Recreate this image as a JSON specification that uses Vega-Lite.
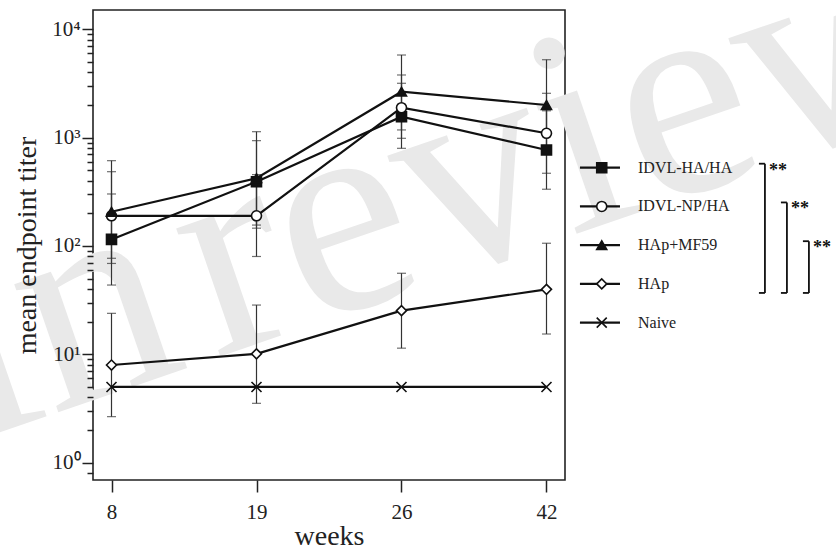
{
  "$schema": "https://vega.github.io/schema/vega-lite/v6.json",
  "width": 472,
  "height": 470,
  "autosize": {"type": "none"},
  "padding": {"left": 93, "top": 10, "right": 271, "bottom": 74},
  "background": "white",
  "config": {
    "view": {"stroke": "#222", "strokeWidth": 1.6},
    "font": "Liberation Serif",
    "axis": {"labelFont": "Liberation Serif", "titleFont": "Liberation Serif", "labelColor": "#222", "titleColor": "#222", "titleFontWeight": "normal", "domain": false, "grid": false, "tickColor": "#222", "tickWidth": 1.5}
  },
  "datasets": {
    "titers": [
      {"series": "IDVL-HA/HA", "week": 8, "titer": 115, "lo": 43.6, "hi": 302},
      {"series": "IDVL-HA/HA", "week": 19, "titer": 392, "lo": 146, "hi": 938},
      {"series": "IDVL-HA/HA", "week": 26, "titer": 1560, "lo": 797, "hi": 3175},
      {"series": "IDVL-HA/HA", "week": 42, "titer": 769, "lo": 334, "hi": 1770},
      {"series": "IDVL-NP/HA", "week": 8, "titer": 190, "lo": 77, "hi": 485},
      {"series": "IDVL-NP/HA", "week": 19, "titer": 190, "lo": 80, "hi": 456},
      {"series": "IDVL-NP/HA", "week": 26, "titer": 1890, "lo": 986, "hi": 3787},
      {"series": "IDVL-NP/HA", "week": 42, "titer": 1097, "lo": 469, "hi": 2566},
      {"series": "HAp+MF59", "week": 8, "titer": 207, "lo": 69, "hi": 613},
      {"series": "HAp+MF59", "week": 19, "titer": 422, "lo": 156, "hi": 1135},
      {"series": "HAp+MF59", "week": 26, "titer": 2655, "lo": 1178, "hi": 5790},
      {"series": "HAp+MF59", "week": 42, "titer": 2000, "lo": 760, "hi": 5240},
      {"series": "HAp", "week": 8, "titer": 7.97, "lo": 2.66, "hi": 23.9},
      {"series": "HAp", "week": 19, "titer": 10.1, "lo": 3.53, "hi": 28.5},
      {"series": "HAp", "week": 26, "titer": 25.3, "lo": 11.4, "hi": 56},
      {"series": "HAp", "week": 42, "titer": 39.8, "lo": 15.4, "hi": 106},
      {"series": "Naive", "week": 8, "titer": 5},
      {"series": "Naive", "week": 19, "titer": 5},
      {"series": "Naive", "week": 26, "titer": 5},
      {"series": "Naive", "week": 42, "titer": 5}
    ],
    "legend": [
      {"series": "IDVL-HA/HA", "pos": 0},
      {"series": "IDVL-NP/HA", "pos": 1},
      {"series": "HAp+MF59", "pos": 2},
      {"series": "HAp", "pos": 3},
      {"series": "Naive", "pos": 4}
    ],
    "brackets": [
      {"level": 1, "from": 0, "to": 3, "label": "**"},
      {"level": 2, "from": 1, "to": 3, "label": "**"},
      {"level": 3, "from": 2, "to": 3, "label": "**"}
    ]
  },
  "layer": [
    {
      "encoding": {
        "x": {"field": "week", "type": "ordinal", "scale": {"type": "point", "domain": [8, 19, 26, 42], "padding": 0.1276},
          "axis": {"labelAngle": 0, "labelFontSize": 21, "tickSize": 12, "labelPadding": 9, "title": "weeks", "titleFontSize": 28, "titlePadding": 0, "zindex": 1}}
      },
      "layer": [
        {
          "data": {"values": [{"week": 26, "titer": 266, "text": "in\u200areview"}]},
          "mark": {"type": "text", "font": "Liberation Serif", "fontSize": 295, "color": "#e9e9e9", "angle": 341, "align": "center", "baseline": "middle", "dx": 46},
          "encoding": {
            "y": {"field": "titer", "type": "quantitative", "scale": {"type": "log", "domain": [0.692, 15070], "nice": false}, "title": "mean endpoint titer",
              "axis": {
                "values": [0.8, 1, 2, 3, 4, 5, 6, 7, 8, 9, 10, 20, 30, 40, 50, 60, 70, 80, 90, 100, 200, 300, 400, 500, 600, 700, 800, 900, 1000, 2000, 3000, 4000, 5000, 6000, 7000, 8000, 9000, 10000],
                "labelExpr": "datum.value == 1 ? '10⁰' : datum.value == 10 ? '10¹' : datum.value == 100 ? '10²' : datum.value == 1000 ? '10³' : datum.value == 10000 ? '10⁴' : ''",
                "tickSize": 11,
                "tickDash": {"condition": {"test": "datum.value == 1 || datum.value == 10 || datum.value == 100 || datum.value == 1000 || datum.value == 10000", "value": [20, 0]}, "value": [6, 30]},
                "labelFontSize": 21, "labelPadding": 2, "labelOverlap": false, "labelBound": false,
                "titleFontSize": 28, "titlePadding": 10, "zindex": 1
              }},
            "text": {"field": "text"}
          }
        },
        {
          "data": {"name": "titers"},
          "transform": [{"filter": "isValid(datum.lo)"}],
          "mark": {"type": "rule", "color": "#333", "strokeWidth": 1.2},
          "encoding": {
            "y": {"field": "lo", "type": "quantitative", "scale": {"type": "log", "domain": [0.692, 15070], "nice": false}, "title": "mean endpoint titer"},
            "y2": {"field": "hi"}
          }
        },
        {
          "data": {"name": "titers"},
          "transform": [{"filter": "isValid(datum.lo)"}, {"fold": ["lo", "hi"], "as": ["end", "bound"]}],
          "mark": {"type": "tick", "color": "#333", "size": 9, "thickness": 1.2},
          "encoding": {
            "y": {"field": "bound", "type": "quantitative", "scale": {"type": "log", "domain": [0.692, 15070], "nice": false}, "title": "mean endpoint titer"}
          }
        },
        {
          "data": {"name": "titers"},
          "mark": {"type": "line", "color": "#111", "strokeWidth": 2.2},
          "encoding": {
            "y": {"field": "titer", "type": "quantitative", "scale": {"type": "log", "domain": [0.692, 15070], "nice": false}, "title": "mean endpoint titer"},
            "detail": {"field": "series"}
          }
        },
        {
          "data": {"name": "titers"},
          "mark": {"type": "point", "filled": true, "opacity": 1, "stroke": "#111", "strokeWidth": 1.6, "size": 100},
          "encoding": {
            "y": {"field": "titer", "type": "quantitative", "scale": {"type": "log", "domain": [0.692, 15070], "nice": false}, "title": "mean endpoint titer"},
            "shape": {"field": "series", "type": "nominal", "scale": {"domain": ["IDVL-HA/HA", "IDVL-NP/HA", "HAp+MF59", "HAp", "Naive"], "range": ["square", "circle", "triangle-up", "diamond", "M-1,-1L1,1M-1,1L1,-1"]}, "legend": null},
            "fill": {"field": "series", "type": "nominal", "scale": {"domain": ["IDVL-HA/HA", "IDVL-NP/HA", "HAp+MF59", "HAp", "Naive"], "range": ["#111", "#fff", "#111", "#fff", "#111"]}, "legend": null}
          }
        }
      ]
    },
    {
      "layer": [
        {
          "data": {"name": "legend"},
          "mark": {"type": "rule", "color": "#111", "strokeWidth": 2.2},
          "encoding": {
            "x": {"datum": -7.41, "type": "quantitative", "scale": {"domain": [-29.55, -8.09], "nice": false, "zero": false}, "axis": null},
            "x2": {"datum": -5.59},
            "y": {"field": "pos", "type": "quantitative", "scale": {"domain": [-4.07, 8.06], "nice": false, "zero": false, "reverse": true}, "axis": null}
          }
        },
        {
          "data": {"name": "legend"},
          "mark": {"type": "point", "filled": true, "opacity": 1, "stroke": "#111", "strokeWidth": 1.6, "size": 100},
          "encoding": {
            "x": {"datum": -6.42, "type": "quantitative", "scale": {"domain": [-29.55, -8.09], "nice": false, "zero": false}, "axis": null},
            "y": {"field": "pos", "type": "quantitative", "scale": {"domain": [-4.07, 8.06], "nice": false, "zero": false, "reverse": true}, "axis": null},
            "shape": {"field": "series", "type": "nominal", "scale": {"domain": ["IDVL-HA/HA", "IDVL-NP/HA", "HAp+MF59", "HAp", "Naive"], "range": ["square", "circle", "triangle-up", "diamond", "M-1,-1L1,1M-1,1L1,-1"]}, "legend": null},
            "fill": {"field": "series", "type": "nominal", "scale": {"domain": ["IDVL-HA/HA", "IDVL-NP/HA", "HAp+MF59", "HAp", "Naive"], "range": ["#111", "#fff", "#111", "#fff", "#111"]}, "legend": null}
          }
        },
        {
          "data": {"name": "legend"},
          "mark": {"type": "text", "font": "Liberation Serif", "fontSize": 16, "color": "#222", "align": "left", "baseline": "middle"},
          "encoding": {
            "x": {"datum": -4.77, "type": "quantitative", "scale": {"domain": [-29.55, -8.09], "nice": false, "zero": false}, "axis": null},
            "y": {"field": "pos", "type": "quantitative", "scale": {"domain": [-4.07, 8.06], "nice": false, "zero": false, "reverse": true}, "axis": null},
            "text": {"field": "series"}
          }
        },
        {
          "data": {"name": "brackets"},
          "mark": {"type": "rule", "color": "#111", "strokeWidth": 1.8, "yOffset": -4, "y2Offset": 9},
          "encoding": {
            "x": {"field": "level", "type": "quantitative", "scale": {"domain": [-29.55, -8.09], "nice": false, "zero": false}, "axis": null},
            "y": {"field": "from", "type": "quantitative", "scale": {"domain": [-4.07, 8.06], "nice": false, "zero": false, "reverse": true}, "axis": null},
            "y2": {"field": "to"}
          }
        },
        {
          "data": {"name": "brackets"},
          "mark": {"type": "rule", "color": "#111", "strokeWidth": 1.8, "yOffset": -4, "x2Offset": -6},
          "encoding": {
            "x": {"field": "level", "type": "quantitative", "scale": {"domain": [-29.55, -8.09], "nice": false, "zero": false}, "axis": null},
            "x2": {"field": "level"},
            "y": {"field": "from", "type": "quantitative", "scale": {"domain": [-4.07, 8.06], "nice": false, "zero": false, "reverse": true}, "axis": null}
          }
        },
        {
          "data": {"name": "brackets"},
          "mark": {"type": "rule", "color": "#111", "strokeWidth": 1.8, "yOffset": 9, "x2Offset": -6},
          "encoding": {
            "x": {"field": "level", "type": "quantitative", "scale": {"domain": [-29.55, -8.09], "nice": false, "zero": false}, "axis": null},
            "x2": {"field": "level"},
            "y": {"field": "to", "type": "quantitative", "scale": {"domain": [-4.07, 8.06], "nice": false, "zero": false, "reverse": true}, "axis": null}
          }
        },
        {
          "data": {"name": "brackets"},
          "mark": {"type": "text", "font": "Liberation Serif", "fontSize": 18, "fontWeight": "bold", "color": "#111", "align": "left", "baseline": "middle", "dx": 4, "dy": 3},
          "encoding": {
            "x": {"field": "level", "type": "quantitative", "scale": {"domain": [-29.55, -8.09], "nice": false, "zero": false}, "axis": null},
            "y": {"field": "from", "type": "quantitative", "scale": {"domain": [-4.07, 8.06], "nice": false, "zero": false, "reverse": true}, "axis": null},
            "text": {"field": "label"}
          }
        }
      ]
    }
  ],
  "resolve": {"scale": {"x": "independent", "y": "independent"}}
}
